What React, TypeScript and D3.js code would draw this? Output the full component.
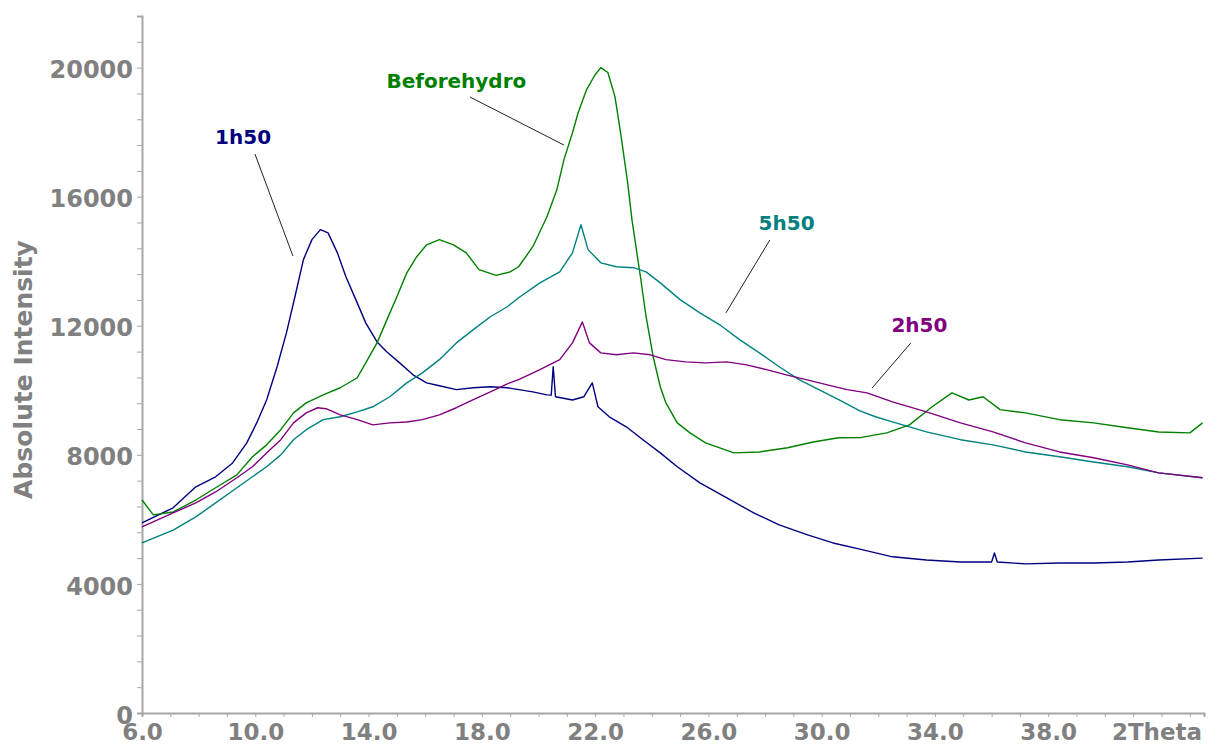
import * as d3 from 'd3';
import { useRef, useEffect } from 'react';

// [2Theta, counts]
const h1_50 = [
  [6.0, 5890], [7.1, 6360], [7.9, 7010], [8.6, 7320], [9.2, 7750], [9.7, 8370], [10.05, 8990],
  [10.4, 9700], [10.77, 10730], [11.1, 11780], [11.4, 12900], [11.7, 14050], [12.0, 14670],
  [12.3, 14980], [12.57, 14880], [12.9, 14260], [13.2, 13520], [13.6, 12710], [13.9, 12090],
  [14.3, 11500], [14.65, 11190], [15.1, 10850], [15.57, 10480], [16.05, 10230], [16.5, 10140],
  [17.1, 10020], [17.7, 10080], [18.3, 10110], [18.9, 10080], [19.8, 9950], [20.3, 9860],
  [20.45, 9850], [20.52, 10730], [20.6, 9800], [21.2, 9700], [21.6, 9800], [21.9, 10230],
  [22.1, 9490], [22.5, 9180], [23.1, 8870], [23.7, 8460], [24.3, 8060], [24.9, 7630],
  [25.7, 7130], [26.65, 6670], [27.6, 6200], [28.5, 5830], [29.5, 5520], [30.4, 5270],
  [31.35, 5080], [32.5, 4840], [33.7, 4740], [34.9, 4680], [36.0, 4680], [36.1, 4960],
  [36.2, 4680], [37.2, 4620], [38.4, 4650], [39.6, 4650], [40.8, 4680], [41.9, 4740], [43.45, 4800],
];

const beforeHydro = [
  [6.0, 6600], [6.4, 6140], [7.1, 6230], [7.9, 6600], [8.6, 6980], [9.35, 7380], [9.9, 7940],
  [10.4, 8310], [10.9, 8780], [11.35, 9300], [11.8, 9610], [12.4, 9860], [13.0, 10080],
  [13.6, 10390], [13.9, 10850], [14.3, 11470], [14.65, 12190], [15.0, 12900], [15.35, 13640],
  [15.7, 14140], [16.05, 14510], [16.5, 14670], [17.0, 14510], [17.45, 14260], [17.9, 13740],
  [18.5, 13560], [19.0, 13670], [19.3, 13830], [19.8, 14450], [20.3, 15380], [20.65, 16220],
  [20.9, 17150], [21.2, 17980], [21.4, 18600], [21.7, 19320], [22.0, 19780], [22.2, 20000],
  [22.45, 19850], [22.7, 19100], [22.9, 17980], [23.15, 16430], [23.3, 15290], [23.6, 13520],
  [23.8, 12280], [24.05, 11040], [24.3, 10110], [24.5, 9610], [24.9, 8990], [25.35, 8680],
  [25.9, 8370], [26.9, 8060], [27.8, 8090], [28.8, 8220], [29.7, 8400], [30.6, 8530],
  [31.4, 8540], [32.3, 8680], [33.1, 8930], [33.9, 9490], [34.6, 9920], [35.2, 9700],
  [35.7, 9800], [36.3, 9400], [37.2, 9300], [38.4, 9090], [39.6, 8990], [40.8, 8840],
  [41.9, 8710], [43.0, 8680], [43.45, 8990],
];

const h5_50 = [
  [6.0, 5270], [7.1, 5670], [7.9, 6080], [8.6, 6510], [9.35, 6980], [9.9, 7320], [10.4, 7630],
  [10.9, 8000], [11.35, 8470], [11.8, 8780], [12.4, 9090], [13.0, 9180], [13.6, 9330],
  [14.15, 9490], [14.75, 9800], [15.35, 10230], [15.9, 10540], [16.5, 10950], [17.1, 11470],
  [17.7, 11880], [18.3, 12280], [18.9, 12590], [19.3, 12870], [20.05, 13330], [20.75, 13670],
  [21.2, 14260], [21.5, 15130], [21.75, 14360], [22.2, 13950], [22.75, 13830], [23.35, 13800],
  [23.8, 13670], [24.3, 13330], [25.0, 12810], [25.7, 12400], [26.4, 12030], [27.1, 11570],
  [27.8, 11160], [28.5, 10730], [29.2, 10330], [29.9, 10020], [30.6, 9710], [31.35, 9360],
  [31.9, 9180], [32.5, 9020], [33.7, 8710], [34.9, 8470], [36.05, 8310], [37.2, 8090],
  [38.4, 7940], [39.6, 7780], [40.8, 7630], [41.9, 7440], [43.45, 7290],
];

const h2_50 = [
  [6.0, 5770], [7.1, 6200], [7.9, 6510], [8.6, 6850], [9.35, 7290], [9.9, 7630], [10.4, 8060],
  [10.9, 8470], [11.35, 8990], [11.8, 9300], [12.2, 9460], [12.5, 9430], [13.0, 9240],
  [13.6, 9090], [14.15, 8930], [14.75, 8990], [15.35, 9020], [15.9, 9090], [16.5, 9240],
  [17.1, 9460], [17.7, 9710], [18.3, 9950], [18.9, 10200], [19.3, 10330], [20.05, 10640],
  [20.75, 10950], [21.2, 11470], [21.55, 12120], [21.8, 11470], [22.2, 11160], [22.75, 11100],
  [23.35, 11160], [23.95, 11100], [24.5, 10950], [25.2, 10880], [25.9, 10850], [26.65, 10880],
  [27.35, 10790], [28.05, 10640], [28.75, 10480], [29.45, 10330], [30.2, 10170], [30.9, 10020],
  [31.6, 9920], [32.5, 9640], [33.7, 9330], [34.9, 8990], [36.05, 8710], [37.2, 8370],
  [38.4, 8090], [39.6, 7910], [40.8, 7690], [41.9, 7440], [43.45, 7290],
];

const seriesNames = ['1h50', 'Beforehydro', '5h50', '2h50'];
const seriesData = [h1_50, beforeHydro, h5_50, h2_50];
const seriesColors = ['#000080', '#008000', '#008080', '#800080'];

// label anchor [2Theta, counts], leader start, leader end
const labelAt = [[9.57, 17630], [17.1, 19370], [28.76, 14970], [33.45, 11810]];
const leaderFrom = [[9.99, 17320], [17.58, 19090], [28.17, 14660], [33.15, 11470]];
const leaderTo = [[11.33, 14160], [20.9, 17600], [26.62, 12400], [31.78, 10070]];

const xMajor = [6, 10, 14, 18, 22, 26, 30, 34, 38, 42];
const xTickLabels = ['6.0', '10.0', '14.0', '18.0', '22.0', '26.0', '30.0', '34.0', '38.0', '2Theta'];
const yMajor = [0, 4000, 8000, 12000, 16000, 20000];

const FONT = '"DejaVu Sans", Verdana, sans-serif';
const GREY = '#808080';

function XrdChart({ width = 1208, height = 744, marginLeft = 142, marginRight = 4, marginTop = 16, marginBottom = 31 }) {
  const gx = useRef<SVGGElement>(null);
  const gy = useRef<SVGGElement>(null);

  const x = d3.scaleLinear([6, 43.5], [marginLeft, width - marginRight]);
  const y = d3.scaleLinear([0, 21600], [height - marginBottom, marginTop]);

  const line = d3.line<number[]>().x(d => x(d[0])).y(d => y(d[1]));

  useEffect(() => {
    const axis = d3.axisBottom(x)
      .tickValues(d3.range(6, 43.5, 1))
      .tickSize(4)
      .tickPadding(7)
      .tickFormat((v: any) => {
        const i = xMajor.indexOf(+v);
        return i >= 0 ? xTickLabels[i] : '';
      });
    const g = d3.select(gx.current).call(axis as any);
    g.select('.domain').attr('stroke', '#a6a6a6').attr('stroke-width', 2);
    g.selectAll('.tick line').attr('stroke', '#a6a6a6');
    g.selectAll('.tick text')
      .attr('fill', GREY)
      .style('font', `bold 23px ${FONT}`)
      .attr('dx', (v: any) => (+v === 42 ? -5 : 0));
  }, [x]);

  useEffect(() => {
    const axis = d3.axisLeft(y)
      .tickValues(d3.range(0, 21601, 800))
      .tickSize(5)
      .tickPadding(4)
      .tickFormat((v: any) => (yMajor.includes(+v) ? String(v) : ''));
    const g = d3.select(gy.current).call(axis as any);
    g.select('.domain').attr('stroke', '#a6a6a6').attr('stroke-width', 2);
    g.selectAll('.tick line').attr('stroke', '#a6a6a6');
    g.selectAll('.tick text')
      .attr('fill', GREY)
      .attr('dy', '0.42em')
      .style('font', `bold 24px ${FONT}`);
  }, [y]);

  return (
    <svg width={width} height={height} style={{ position: 'absolute', left: 0, top: 0, background: '#fff' }}>
      <g ref={gx} transform={`translate(0,${height - marginBottom})`} />
      <g ref={gy} transform={`translate(${marginLeft},0)`} />
      <text
        transform={`translate(25,${(marginTop + height - marginBottom) / 2 + 5}) rotate(-90)`}
        textAnchor="middle"
        dominantBaseline="middle"
        fill={GREY}
        style={{ font: `bold 25px ${FONT}` }}
      >
        Absolute Intensity
      </text>
      <g fill="none" strokeWidth={1.4} strokeLinejoin="round">
        {seriesData.map((s, i) => (
          <path key={seriesNames[i]} d={line(s) ?? ''} stroke={seriesColors[i]} />
        ))}
      </g>
      <g>
        {seriesNames.map((name, i) => (
          <g key={name}>
            <line
              x1={x(leaderFrom[i][0])}
              y1={y(leaderFrom[i][1])}
              x2={x(leaderTo[i][0])}
              y2={y(leaderTo[i][1])}
              stroke="#222"
              strokeWidth={1}
            />
            <text
              x={x(labelAt[i][0])}
              y={y(labelAt[i][1])}
              textAnchor="middle"
              fill={seriesColors[i]}
              style={{ font: `bold 20px ${FONT}` }}
            >
              {name}
            </text>
          </g>
        ))}
      </g>
    </svg>
  );
}

export default function App() {
  return <XrdChart />;
}
